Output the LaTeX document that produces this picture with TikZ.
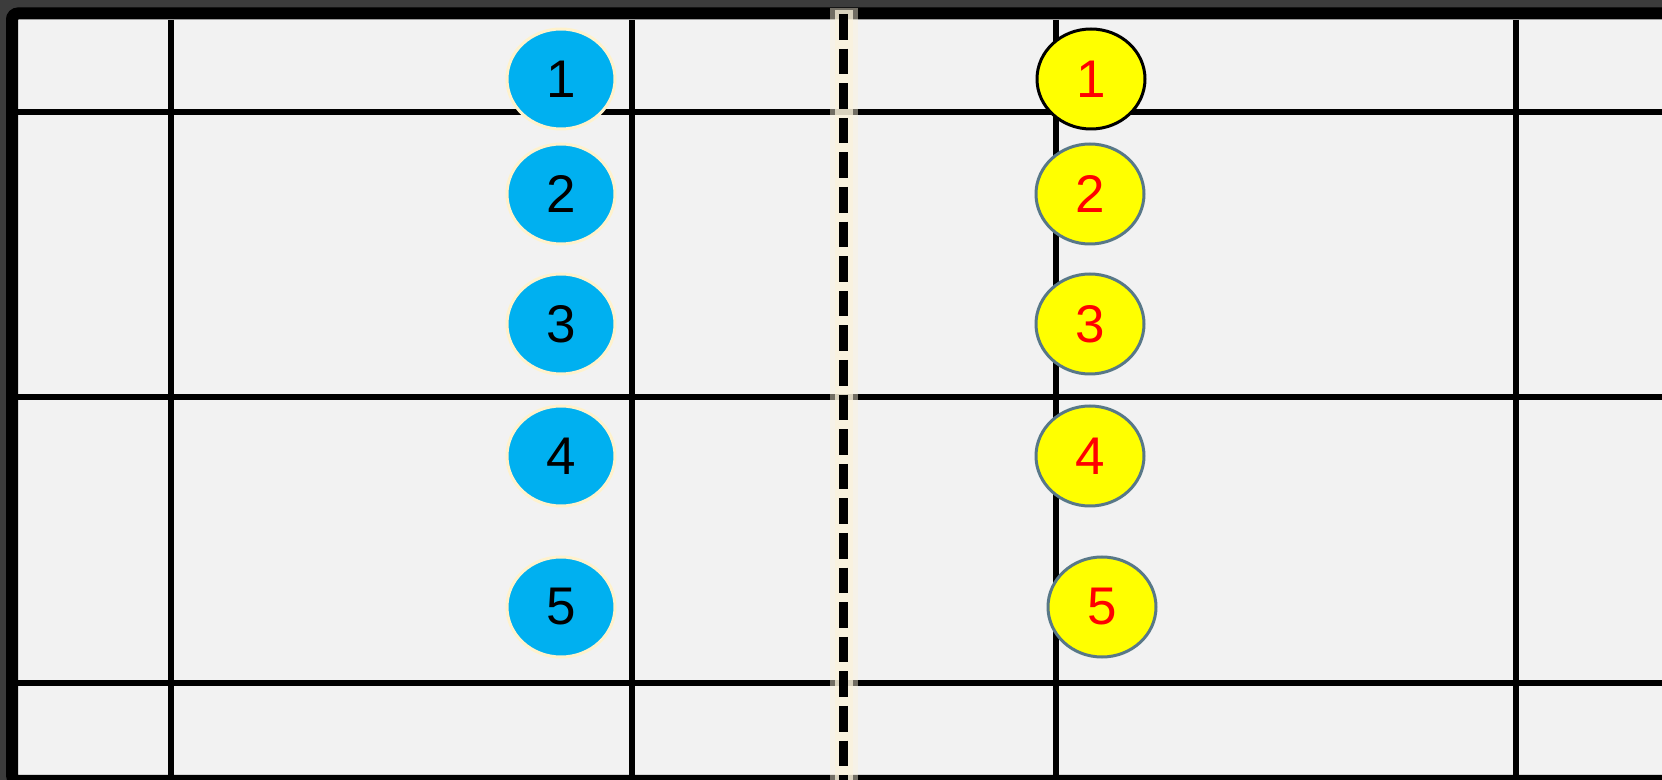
\documentclass[tikz,border=0pt]{standalone}
\usepackage{fontspec}
\setmainfont{Liberation Sans}
\usetikzlibrary{shapes.geometric}
\definecolor{frame}{HTML}{3C3C3C}
\definecolor{field}{HTML}{F2F2F2}
\definecolor{glow}{HTML}{FBF3DC}
\definecolor{home}{HTML}{00B0F0}
\definecolor{homerim}{HTML}{FFF2CC}
\definecolor{away}{HTML}{FFFF00}
\definecolor{awayrim}{HTML}{587888}
\definecolor{awaynum}{HTML}{FF0000}
\tikzset{
  gridline/.style={line width=3pt,draw=black},
  midglow/.style={line width=14pt,draw=glow,opacity=0.45},
  midcore/.style={line width=9pt,draw=glow,opacity=0.75},
  midline/.style={line width=4.5pt,draw=black,dash pattern=on 12.8pt off 4.5pt},
  player/.style={ellipse,minimum width=54pt,minimum height=50pt,inner sep=0pt,font=\fontsize{26.5}{30}\selectfont},
  homedisc/.style={player,fill=home,draw=homerim,line width=1.5pt,text=black},
  awaydisc/.style={player,fill=away,draw=awayrim,line width=1.5pt,text=awaynum},
  keeperdisc/.style={awaydisc,draw=black},
}

\begin{document}
\begin{tikzpicture}[x=0.5pt,y=-0.5pt]

\clip (0,0) rectangle (1662,780);
\fill[frame] (0,0) rectangle (1662,780);
\draw[line width=6pt,fill=field,rounded corners=3pt] (12,13.5) rectangle (1690,781);

% grid
\draw[gridline] (18,112) -- (1662,112);
\draw[gridline] (18,397) -- (1662,397);
\draw[gridline] (18,683.5) -- (1662,683.5);
\draw[gridline] (171,20) -- (171,775);
\draw[gridline] (632,20) -- (632,775);
\draw[gridline] (1056,20) -- (1056,775);
\draw[gridline] (1515.5,20) -- (1515.5,775);

% halfway line
\draw[midglow] (843.5,8) -- (843.5,780);
\draw[midcore] (843.5,10) -- (843.5,780);
\draw[midline] (843.5,14) -- (843.5,780);

% home side
\node[homedisc] (b1) at (561,79) {1};
\node[homedisc] (b2) at (561,194) {2};
\node[homedisc] (b3) at (561,324) {3};
\node[homedisc] (b4) at (561,456) {4};
\node[homedisc] (b5) at (561,607) {5};

% away side
\node[keeperdisc] (y1) at (1091,79) {1};
\node[awaydisc] (y2) at (1090,194) {2};
\node[awaydisc] (y3) at (1090,324) {3};
\node[awaydisc] (y4) at (1090,456) {4};
\node[awaydisc] (y5) at (1102,607) {5};

\end{tikzpicture}
\end{document}
